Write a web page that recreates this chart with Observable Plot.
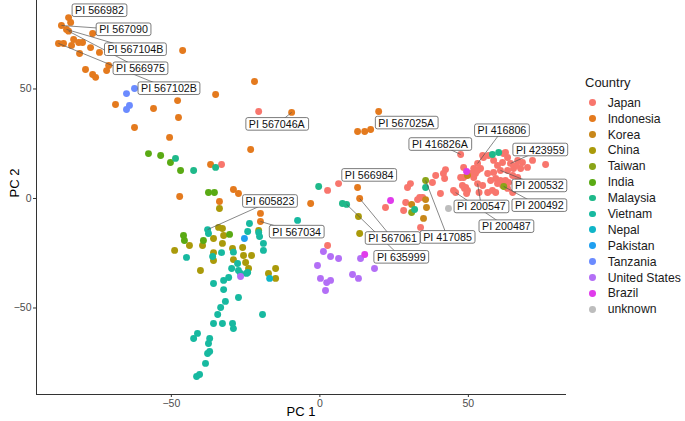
<!DOCTYPE html>
<html><head><meta charset="utf-8">
<script src="https://cdn.jsdelivr.net/npm/d3@7"></script>
<script src="https://cdn.jsdelivr.net/npm/@observablehq/plot@0.6"></script>
<style>
body{margin:0;background:#fff;font-family:"Liberation Sans",Arial,sans-serif;}
#wrap{position:relative;width:685px;height:421px;overflow:hidden;}
#legend{position:absolute;left:585px;top:75px;color:#1a1a1a;}
#legend .title{font-size:13px;height:16px;line-height:16px;margin-bottom:3.8px;}
#legend .item{display:flex;align-items:center;height:15.9px;font-size:12.2px;}
#legend .dot{width:6.8px;height:6.8px;border-radius:50%;margin-left:4.3px;margin-right:11.6px;}
</style></head><body>
<div id="wrap"><div id="chart"></div><div id="legend"></div></div>
<script>
const countries = ["Japan","Indonesia","Korea","China","Taiwan","India","Malaysia","Vietnam","Nepal","Pakistan","Tanzania","United States","Brazil","unknown"];
const colors = ["#F8766D","#E47A1E","#C8871A","#AA9A0A","#8AA418","#5AAA14","#1FB98A","#17B9A0","#10B5C8","#1F9FF0","#6B8BFF","#B36FF6","#E03BEB","#BDBDBD"];

const japan = [[47.4,20.1],[53.1,16.0],[54.1,13.7],[51.8,13.7],[48.4,14.2],[52.4,11.4],[48.4,9.6],[47.4,9.6],[48.0,5.9],[42.3,13.2],[41.6,11.4],[39.0,10.5],[37.9,7.3],[40.6,2.3],[45.0,3.7],[45.7,2.7],[49.1,5.0],[49.7,3.7],[53.1,6.8],[54.8,5.9],[56.5,2.7],[58.1,3.7],[59.2,2.7],[55.1,18.7],[56.8,19.6],[58.5,17.4],[59.8,15.1],[62.5,21.0],[63.2,18.7],[61.5,16.4],[64.2,16.0],[66.6,17.4],[68.2,16.4],[71.6,17.4],[76.0,15.5],[69.9,14.2],[67.6,13.7],[65.2,13.7],[63.2,12.8],[60.8,12.8],[58.5,11.9],[56.5,11.4],[59.2,9.1],[57.5,8.2],[60.8,8.2],[62.5,8.2],[59.8,6.8],[61.5,5.9],[63.2,4.6],[64.9,2.7],[66.6,9.6],[64.9,10.5],[63.5,7.3],[30.5,6.8],[29.5,5.0],[28.2,-5.5],[22.1,-4.1],[34.6,0.5],[33.6,0.5],[33.9,-13.2],[28.9,-1.8],[32.9,-0.5],[42.0,9.1],[48.7,4.6],[49.4,2.3],[50.7,11.4],[53.1,12.8],[51.8,9.6],[53.6,2.7],[54.8,19.6],[61.8,20.5],[66.2,15.1],[-20.6,39.7],[-33.1,15.5],[2.6,3.7],[6.3,6.8],[2.6,-21.5]];
const indonesia = [[-84.6,82.6],[-83.9,80.4],[-87.0,79.0],[-85.3,77.2],[-84.6,76.4],[-88.0,70.8],[-86.3,70.8],[-83.6,69.9],[-82.9,72.6],[-81.2,71.2],[-79.9,71.2],[-80.9,66.2],[-77.2,68.9],[-74.2,66.7],[-76.5,75.3],[-71.1,60.7],[-71.8,58.4],[-78.9,58.9],[-76.5,56.6],[-75.5,55.3],[-46.2,67.6],[-47.9,44.7],[-35.1,47.5],[-68.8,42.9],[-56.0,41.1],[-47.6,37.0],[-62.4,32.4],[-50.6,27.9],[-22.0,53.4],[-9.5,39.3],[-23.3,22.4],[-36.8,15.5],[19.8,39.7],[12.7,30.6],[15.1,30.6],[17.1,31.5],[-47.2,0.9],[-29.1,4.1],[-27.4,2.3],[-33.8,-1.4],[-3.1,-2.3],[-20.0,-6.8],[-20.0,-10.5],[12.7,5.0],[13.4,0.0]];
const korea = [[30.9,-2.7],[35.9,-4.1],[35.6,-0.5],[34.9,-9.1],[49.7,10.5]];
const china = [[-34.1,-13.2],[-32.8,-13.7],[-35.8,-18.3],[-32.4,-16.9],[-32.8,-20.5],[-35.8,-24.7],[-35.8,-28.3],[-39.5,-21.5],[-48.9,-23.7],[-43.9,-21.5],[-40.2,-32.9],[-29.4,-22.8],[-26.0,-22.4],[-25.7,-26.0],[-29.1,-27.9],[-23.0,-26.0],[-25.0,-29.2],[-24.0,-32.0],[-20.6,-14.6],[-17.3,-34.2],[-14.9,-32.0],[-14.9,-36.5],[-33.8,-4.6],[13.0,-8.2],[13.4,-16.0]];
const taiwan = [[35.6,8.2],[61.9,5.5],[30.9,-6.4]];
const india = [[-57.7,20.5],[-53.6,19.6],[-50.3,16.4],[-46.9,12.8],[-37.5,2.7],[-35.5,2.7],[-45.9,-16.9],[-45.6,-19.2],[-39.2,-19.2],[-30.4,-16.4]];
const malaysia = [[-48.6,18.3],[-42.5,12.8],[-35.1,14.2],[-0.4,5.5],[7.6,-2.3],[9.0,-2.7],[58.1,20.1],[60.2,21.0],[35.6,5.0],[31.9,-5.0]];
const vietnam = [[-37.8,-14.2],[-37.5,-16.0],[-23.7,-11.4],[-24.3,-15.1],[-20.6,-15.5],[-19.0,-20.5],[-19.0,-23.7],[-20.3,-17.4],[-44.9,-26.9],[-36.1,-26.5],[-33.1,-24.7],[-29.1,-24.5],[-29.7,-32.0],[-27.4,-32.9],[-27.7,-29.7],[-24.3,-33.8],[-35.8,-38.8],[-32.4,-37.4],[-30.7,-36.1],[-32.4,-41.6],[-31.8,-47.0],[-27.4,-45.2],[-33.4,-49.8],[-34.4,-53.0],[-35.8,-57.1],[-32.8,-57.1],[-29.4,-57.1],[-29.1,-59.4],[-19.3,-53.0],[-41.2,-61.6],[-42.5,-63.9],[-37.1,-63.9],[-37.5,-66.2],[-37.8,-70.8],[-37.1,-69.9],[-38.5,-75.3],[-41.5,-81.3],[-40.5,-80.4],[-26.7,-34.2],[-24.7,-34.2],[-7.5,-10.0]];
const nepal = [[-16.9,-36.5]];
const pakistan = [[-25.4,-18.3]];
const tanzania = [[-65.1,47.9],[-62.4,50.2],[-64.1,42.5],[-65.1,40.6]];
const unitedStates = [[1.2,-24.2],[3.6,-26.5],[6.3,-27.4],[13.7,-27.4],[18.4,-32.0],[0.2,-36.5],[2.3,-38.4],[3.6,-37.4],[11.0,-34.7],[13.0,-36.5],[-0.8,-30.6],[1.9,-42.0],[-26.7,-35.6]];
const brazil = [[15.1,-25.6],[23.8,-0.9],[49.4,12.3]];
const unknown = [[43.3,-4.6]];

// labelled accessions: name, point (pc1, pc2), label centre (pc1, pc2), leader segment shown
const labelNames = ["PI 566982","PI 567090","PI 567104B","PI 566975","PI 567102B","PI 567046A","PI 567025A","PI 416826A","PI 416806","PI 423959","PI 200532","PI 200492","PI 200547","PI 200487","PI 417085","PI 566984","PI 567061","PI 635999","PI 605823","PI 567034"];
const labelPointX = [-84.6,-87.0,-85.3,-84.6,-88.0,-9.5,19.8,47.4,53.1,64.2,60.8,61.9,53.1,45.7,35.6,12.7,13.4,9.0,-37.8,-20.0];
const labelPointY = [82.6,79.0,77.2,76.4,70.8,39.3,39.7,20.1,16.0,16.0,12.8,5.5,6.8,2.7,8.2,5.0,0.0,-2.7,-14.2,-10.5];
const labelX = [-74.2,-66.1,-62.1,-60.4,-50.8,-14.5,29.1,40.4,61.3,74.2,73.9,73.9,54.4,62.8,43.0,16.6,24.5,27.4,-16.8,-7.8];
const labelY = [85.7,77.0,67.9,59.2,50.1,33.8,34.4,24.6,30.9,22.1,5.7,-3.3,-3.9,-12.9,-17.8,10.5,-18.3,-26.9,-1.4,-15.4];
const labelSegment = [false,true,true,true,true,true,false,true,true,true,true,true,true,true,true,false,true,true,true,true];

const xTicks = [-50, 0, 50];
const yTicks = [-50, 0, 50];

const series = [japan,indonesia,korea,china,taiwan,india,malaysia,vietnam,nepal,pakistan,tanzania,unitedStates,brazil,unknown];
const points = [];
series.forEach((s, i) => s.forEach(([a, b]) => points.push({pc1: a, pc2: b, country: countries[i]})));
const labels = labelNames.map((n, i) => ({name: n, px: labelPointX[i], py: labelPointY[i], lx: labelX[i], ly: labelY[i], seg: labelSegment[i]}));

const chart = Plot.plot({
  width: 685, height: 421,
  marginLeft: 36, marginRight: 120, marginTop: 0, marginBottom: 27,
  style: {fontFamily: "'Liberation Sans', Arial, sans-serif", fontSize: "10.5px", color: "#333", background: "#fff"},
  x: {domain: [-95.4, 82.7], ticks: xTicks, tickSize: 3, tickPadding: 2, line: true, label: null},
  y: {domain: [-89.5, 90.4], ticks: yTicks, tickSize: 3, tickPadding: 2, line: true, label: null},
  color: {domain: countries, range: colors},
  marks: [
    Plot.dot(points, {x: "pc1", y: "pc2", fill: "country", r: 3.45}),
    Plot.link(labels.filter(d => d.seg), {x1: "px", y1: "py", x2: "lx", y2: "ly", stroke: "#555", strokeWidth: 0.7}),
    Plot.text(labels, {x: "lx", y: "ly", text: "name", fill: "#111", fontSize: 10.7}),
    Plot.text(["PC 1"], {frameAnchor: "bottom", text: d => d, dy: 21, fontSize: 13, fill: "#000"}),
    Plot.text(["PC 2"], {frameAnchor: "left", text: d => d, dx: -22, rotate: -90, fontSize: 13, fill: "#000"})
  ]
});
document.getElementById("chart").appendChild(chart);

// white rounded boxes behind the label texts (sized from the rendered text)
const textGroups = chart.querySelectorAll('g[aria-label="text"]');
if (textGroups.length) {
  const g = textGroups[0];
  g.querySelectorAll("text").forEach(t => {
    const bb = t.getBBox();
    const r = document.createElementNS("http://www.w3.org/2000/svg", "rect");
    r.setAttribute("x", bb.x - 3);
    r.setAttribute("y", bb.y - 0.3);
    r.setAttribute("width", bb.width + 6);
    r.setAttribute("height", bb.height + 0.6);
    r.setAttribute("rx", 2);
    r.setAttribute("fill", "#fff");
    r.setAttribute("stroke", "#444");
    r.setAttribute("stroke-width", 0.7);
    if (t.getAttribute("transform")) r.setAttribute("transform", t.getAttribute("transform"));
    g.insertBefore(r, t);
  });
}
chart.querySelectorAll('g[aria-label="x-axis tick label"] text, g[aria-label="y-axis tick label"] text').forEach(t => t.setAttribute("fill", "#4d4d4d"));

const legend = document.getElementById("legend");
legend.innerHTML = '<div class="title">Country</div>' + countries.map((c, i) =>
  `<div class="item"><span class="dot" style="background:${colors[i]}"></span><span>${c}</span></div>`).join("");
</script>
</body></html>
